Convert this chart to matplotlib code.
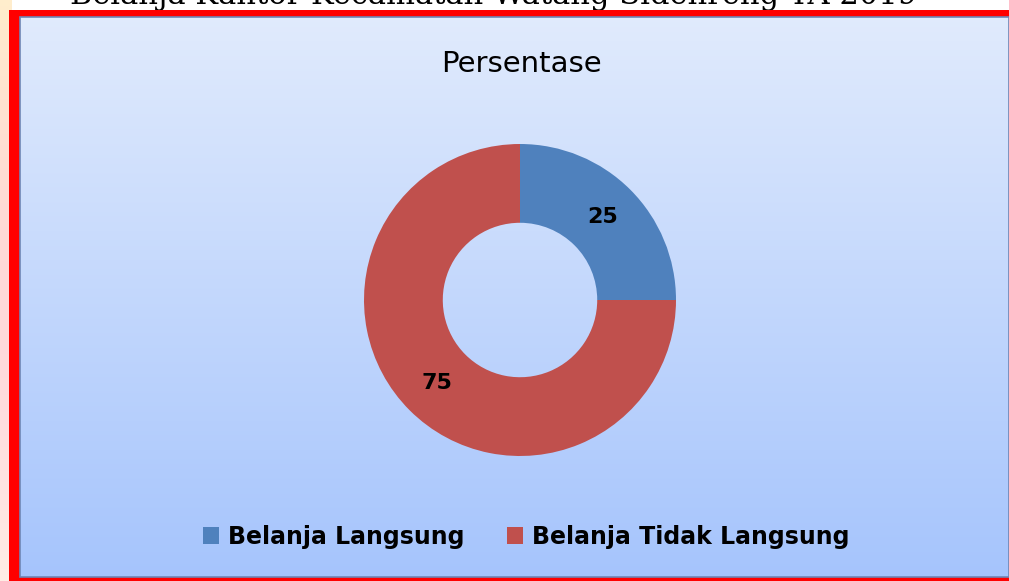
import numpy as np
import matplotlib
matplotlib.use("Agg")
import matplotlib.pyplot as plt
from matplotlib.patches import Rectangle

# data
categories = ["Belanja Langsung", "Belanja Tidak Langsung"]
values = [25, 75]
colors = ["#4F81BD", "#C0504D"]
chart_title = "Persentase"
page_title = "Belanja Kantor Kecamatan Watang Sidenreng TA 2019"

W, H = 1009, 581
fig = plt.figure(figsize=(W / 100, H / 100), dpi=100)

# background layer in pixel coordinates
bg = fig.add_axes([0, 0, 1, 1])
bg.set_xlim(0, W)
bg.set_ylim(H, 0)
bg.axis("off")

# slide leftovers: warm gradient on the left edge
s = np.linspace(0, 1, 100)
warm = np.ones((100, 1, 3))
warm[:, 0, 1] = 0.93 - 0.08 * np.sin(s * np.pi)
warm[:, 0, 2] = 0.80 + 0.1 * s
bg.imshow(warm, extent=[0, 12, H, 0], aspect="auto", zorder=0)
bg.add_patch(Rectangle((12, 0), W, 10, facecolor="white", edgecolor="none", zorder=0))

# cut-off page title at the very top (mostly hidden by the frame)
bg.text(494, 4, page_title, ha="center", va="baseline", fontsize=22,
        family="DejaVu Serif", color="black", zorder=0.5)

# red frame
bg.add_patch(Rectangle((9, 10), W - 9, H - 10, facecolor="#FF0000", edgecolor="none", zorder=1))

# blue gradient panel
t = np.linspace(0, 1, 256).reshape(-1, 1)
top = np.array([0.88, 0.92, 0.99])
bot = np.array([0.65, 0.77, 0.99])
grad = (top + (bot - top) * t)[:, None, :]
bg.imshow(grad, extent=[20, W, 577, 17], aspect="auto", zorder=2)
bg.add_patch(Rectangle((20, 17), W - 20, 560, facecolor="none", edgecolor="#6F86B5", linewidth=1.2, zorder=3))

# donut
cx, cy, r = 520, 300, 156
ax = fig.add_axes([(cx - r) / W, (H - cy - r) / H, 2 * r / W, 2 * r / H])
wedges, _, autotexts = ax.pie(values, colors=colors, startangle=90, counterclock=False,
                              radius=1, autopct=lambda p: f"{p:.0f}", pctdistance=0.75,
                              wedgeprops=dict(width=0.505, linewidth=0))
for txt in autotexts:
    txt.set_fontsize(16)
    txt.set_fontweight("bold")
    txt.set_color("black")
ax.set_xlim(-1, 1)
ax.set_ylim(-1, 1)
ax.set_aspect("equal")
ax.axis("off")

fig.text(521 / W, 1 - 64 / H, chart_title, ha="center", va="center", fontsize=21, color="black")

handles = [Rectangle((0, 0), 1, 1, facecolor=c, edgecolor="none") for c in colors]
fig.legend(handles, categories, loc="center", bbox_to_anchor=(526 / W, 1 - 537 / H),
           ncol=2, frameon=False, handlelength=0.7, handleheight=0.7, handletextpad=0.35,
           columnspacing=1.8, prop=dict(size=17, weight="bold"))

fig.savefig("out.png", dpi=100)
